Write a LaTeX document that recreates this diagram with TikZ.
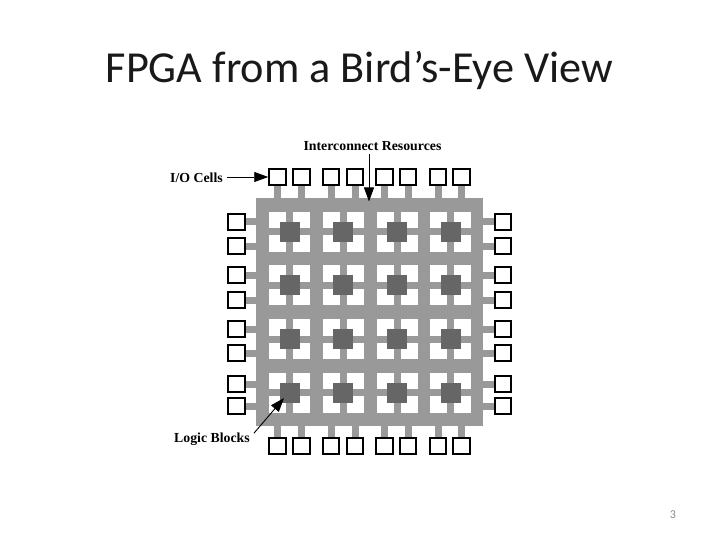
\documentclass[tikz,border=0pt]{standalone}
\usepackage{fontspec}
\setmainfont{Liberation Serif}
\newfontfamily\titlefont{Carlito}
\usetikzlibrary{arrows.meta}
\definecolor{wiregray}{HTML}{999999}
\definecolor{blockgray}{HTML}{666666}
\definecolor{pagegray}{HTML}{898989}
\tikzset{
	iocell/.style={draw=black, fill=white, line width=2pt, inner sep=0pt, minimum size=16.5pt},
	panel/.style={fill=wiregray, inner sep=0pt, minimum width=227pt, minimum height=228pt},
	hole/.style={fill=white, inner sep=0pt, minimum width=41pt, minimum height=40pt},
	logicblock/.style={fill=blockgray, inner sep=0pt, minimum size=20pt},
	wire/.style={draw=wiregray, line width=7pt},
	pointer/.style={-{Triangle[length=14pt,width=10pt]}, line width=0.9pt},
	lab/.style={font=\fontsize{13.8}{15}\selectfont\bfseries, inner sep=0pt}
}
\begin{document}
\begin{tikzpicture}[x=1pt, y=-1pt, line join=miter]
	\useasboundingbox (0,0) rectangle (720,540);
	\node[font=\titlefont\fontsize{44.3}{52}\selectfont, anchor=base, text=black!90] (title) at (359.5,83) {FPGA from a Bird’s-Eye View};
	\node[font=\titlefont\fontsize{12}{14}\selectfont, text=pagegray] (pagenum) at (673,515) {3};
	% routing panel and logic blocks
	\node[panel] (panel) at (369.5,312) {};
	\foreach \i/\px in {1/289.5,2/343.3,3/397,4/450.7}
	\foreach \j/\py in {1/231.7,2/285.3,3/339,4/392.5} {
		\node[hole] (hole-\i-\j) at (\px,\py) {};
		\draw[wire] (hole-\i-\j.north) -- (hole-\i-\j.south);
		\draw[wire] (hole-\i-\j.west) -- (hole-\i-\j.east);
		\node[logicblock] (block-\i-\j) at (\px,\py) {};
	}
	% io cells top and bottom
	\foreach \i/\px in {1/277.5,2/301.5,3/331,4/355,5/384.5,6/408,7/438,8/461.5} {
		\node[iocell] (top-\i) at (\px,177) {};
		\node[iocell] (bot-\i) at (\px,446) {};
		\draw[wire] (top-\i.south) -- (top-\i.south |- panel.north);
		\draw[wire] (bot-\i.north) -- (bot-\i.north |- panel.south);
	}
	% io cells left and right
	\foreach \j/\py in {1/222,2/246,3/275,4/300,5/329,6/353,7/384,8/406} {
		\node[iocell] (lft-\j) at (236.5,\py) {};
		\node[iocell] (rgt-\j) at (503,\py) {};
		\draw[wire] (lft-\j.east) -- (lft-\j.east -| panel.west);
		\draw[wire] (rgt-\j.west) -- (rgt-\j.west -| panel.east);
	}
	% labels
	\node[lab, anchor=base] (resources) at (372.5,151) {Interconnect Resources};
	\node[lab, anchor=base west] (cells) at (170,183) {I/O Cells};
	\node[lab, anchor=base west] (blocks) at (174,442) {Logic Blocks};
	\coordinate (resources-tip) at (369,201.5);
	\coordinate (blocks-tip) at (284,398);
	\draw[pointer, shorten <=3pt] (resources.south -| resources-tip) -- (resources-tip);
	\draw[pointer] (cells.east |- top-1) ++(4,0) -- (top-1.west);
	\draw[pointer] (blocks.north east) ++(4,1) -- (blocks-tip);
\end{tikzpicture}
\end{document}
